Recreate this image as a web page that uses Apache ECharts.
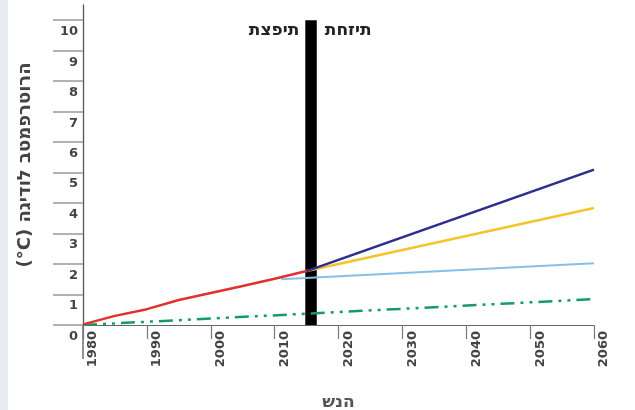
<!DOCTYPE html>
<html>
<head>
<meta charset="utf-8">
<script src="https://cdn.jsdelivr.net/npm/echarts@6/dist/echarts.min.js"></script>
<style>
  html, body { margin: 0; padding: 0; background: #fff; }
  #main { width: 635px; height: 410px; }
</style>
</head>
<body>
<div id="main"></div>
<script>
// ציר הזמן
var xTicks = [1980, 1990, 2000, 2010, 2020, 2030, 2040, 2050, 2060];
var yTicks = [0, 1, 2, 3, 4, 5, 6, 7, 8, 9, 10];

// תצפית (אדום)
var obsYears = [1980, 1985, 1990, 1995, 2000, 2005, 2010, 2015];
var obsVals = [0.02, 0.3, 0.52, 0.82, 1.05, 1.28, 1.52, 1.77];

// תחזיות
var projYears = [2015, 2060];
var highVals = [1.77, 5.1];
var midVals = [1.77, 3.84];
var lowYears = [2011, 2060];
var lowVals = [1.5, 2.03];
var baseYears = [1980, 2060];
var baseVals = [0, 0.85];

// פס הגבול בין תצפית לתחזית
var splitYears = [2014.8, 2016.6];
var splitTop = 10;
var labelLevel = 9.65;

var yName = 'הגידול בטמפרטורה (°C)';
var xName = 'שנה';
var leftLabel = 'תצפית';
var rightLabel = 'תחזית';

function pairs(xs, ys) {
    return xs.map(function (x, i) { return [x, ys[i]]; });
}

// ה-canvas כאן לא מסדר טקסט מימין לשמאל, אז הופכים לסדר חזותי
function visual(s) {
    var r = s.split('').reverse().join('');
    r = r.replace(/[A-Za-z0-9°]+/g, function (m) { return m.split('').reverse().join(''); });
    return r.replace(/[()]/g, function (c) { return c === '(' ? ')' : '('; });
}

var myChart = echarts.init(document.getElementById('main'));

var stripe = {
    type: 'rect',
    left: 0, top: 0,
    shape: { width: 8, height: 410 },
    style: { fill: '#e8ecf0' }
};

var option = {
    backgroundColor: '#fff',
    animation: false,
    graphic: [stripe],
    grid: { left: 83, right: 41, top: 5, bottom: 85, outerBoundsMode: 'none' },
    xAxis: {
        type: 'value',
        min: 1980, max: 2060, interval: 10,
        name: visual(xName),
        nameLocation: 'middle',
        nameGap: 69,
        nameTextStyle: { fontSize: 17, color: '#555', fontFamily: 'DejaVu Sans', fontWeight: 'bold' },
        axisLine: { lineStyle: { color: '#666', width: 1.2 } },
        axisTick: { length: 14, lineStyle: { color: '#777', width: 1.2 } },
        axisLabel: {
            rotate: 90, margin: 6,
            verticalAlign: 'top', lineHeight: 20,
            fontSize: 13, fontWeight: 'bold', color: '#444',
            fontFamily: 'DejaVu Sans',
            formatter: function (v) { return xTicks.indexOf(v) >= 0 ? String(v) : ''; }
        },
        splitLine: { show: false }
    },
    yAxis: {
        type: 'value',
        min: 0, max: 10.5,
        name: visual(yName),
        nameLocation: 'middle',
        nameGap: 49,
        nameTextStyle: { fontSize: 18, color: '#444', fontFamily: 'DejaVu Sans', fontWeight: 'bold' },
        axisLine: { lineStyle: { color: '#555', width: 1.3 } },
        axisTick: { customValues: yTicks, length: 30, lineStyle: { color: '#999', width: 1.5 } },
        axisLabel: {
            customValues: yTicks,
            margin: 5,
            verticalAlign: 'top',
            padding: [5, 0, 0, 0],
            fontSize: 13, fontWeight: 'bold', color: '#444',
            fontFamily: 'DejaVu Sans'
        },
        splitLine: { show: false }
    },
    series: [
        {
            name: 'בסיס', type: 'line', symbol: 'none', z: 3,
            data: pairs(baseYears, baseVals),
            lineStyle: { color: '#17996f', width: 2.5, type: [14, 6, 3, 6, 3, 6] }
        },
        {
            name: 'נמוך', type: 'line', symbol: 'none', z: 3,
            data: pairs(lowYears, lowVals),
            lineStyle: { color: '#86bfe8', width: 2 }
        },
        {
            name: 'בינוני', type: 'line', symbol: 'none', z: 3,
            data: pairs(projYears, midVals),
            lineStyle: { color: '#f6c32c', width: 2.5 }
        },
        {
            name: 'גבוה', type: 'line', symbol: 'none', z: 3,
            data: pairs(projYears, highVals),
            lineStyle: { color: '#2d2b8e', width: 2.5 }
        },
        {
            name: 'תצפית', type: 'line', symbol: 'none', z: 4,
            data: pairs(obsYears, obsVals),
            lineStyle: { color: '#e0322b', width: 2.5 }
        },
        {
            name: 'גבול', type: 'line', symbol: 'none', z: 10,
            data: [],
            markArea: {
                silent: true,
                itemStyle: { color: '#000', opacity: 1 },
                data: [[{ coord: [splitYears[0], 0] }, { coord: [splitYears[1], splitTop] }]]
            },
            markPoint: {
                symbol: 'circle', symbolSize: 0, silent: true,
                label: { fontSize: 17, fontWeight: 'bold', color: '#222', fontFamily: 'DejaVu Sans' },
                data: [
                    { coord: [splitYears[0], labelLevel], label: { position: 'left', distance: 6, formatter: visual(leftLabel) } },
                    { coord: [splitYears[1], labelLevel], label: { position: 'right', distance: 8, formatter: visual(rightLabel) } }
                ]
            }
        }
    ]
};

myChart.setOption(option);

// המשך קו הציר האנכי מתחת לאפס
var p0 = myChart.convertToPixel({ gridIndex: 0 }, [xTicks[0], 0]);
myChart.setOption({
    graphic: [stripe, {
        type: 'line',
        shape: { x1: p0[0], y1: p0[1], x2: p0[0], y2: p0[1] + 34 },
        style: { stroke: '#555', lineWidth: 1.3 }
    }]
});
</script>
</body>
</html>
